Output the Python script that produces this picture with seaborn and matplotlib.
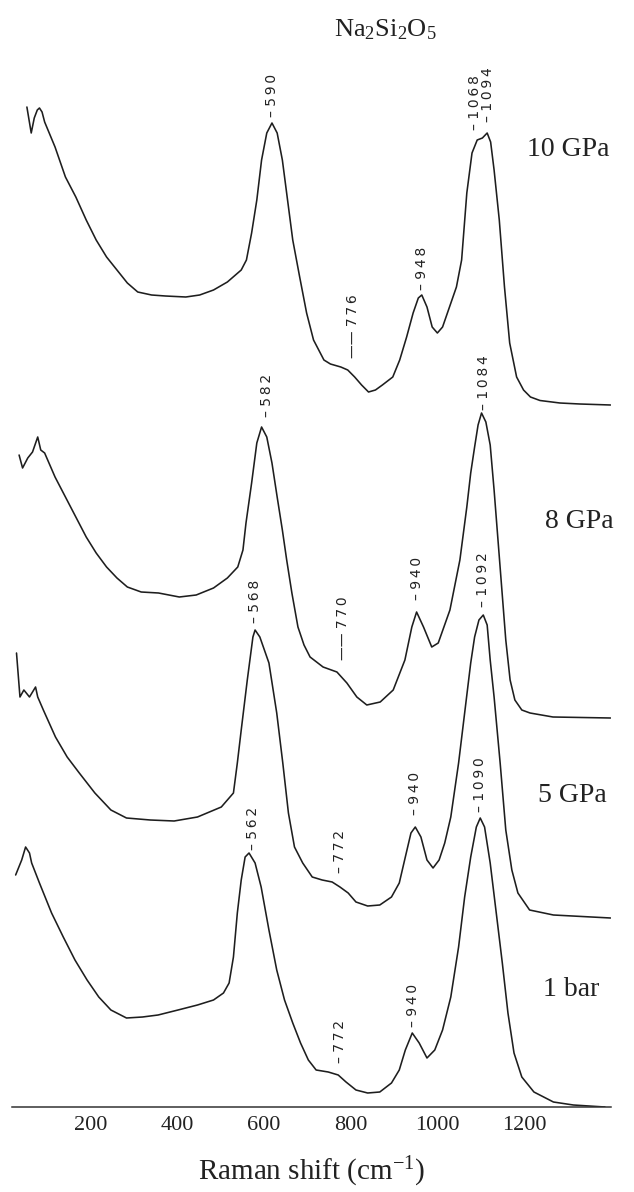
import matplotlib
matplotlib.use("Agg")
import matplotlib.pyplot as plt
import seaborn as sns
import pandas as pd

# ---------------- data ----------------
shift_10gpa = [52, 62, 69, 76, 81, 87, 93, 117, 141, 165, 189, 212, 236, 260, 284, 308, 340, 372, 419, 451,
               483, 515, 547, 559, 571, 583, 594, 606, 618, 630, 642, 654, 666, 682, 698, 714, 738, 753, 777, 793,
               809, 825, 841, 857, 873, 897, 913, 929, 944, 956, 964, 976, 988, 1000, 1012, 1028, 1044, 1056, 1068, 1080,
               1092, 1104, 1115, 1123, 1131, 1143, 1155, 1167, 1183, 1199, 1215, 1237, 1283, 1329, 1400]
int_10gpa = [298, 272, 287, 295, 297, 293, 283, 258, 228, 208, 185, 165, 148, 135, 122, 113, 110, 109, 108, 110,
             115, 123, 135, 145, 172, 205, 245, 272, 282, 272, 245, 205, 165, 128, 92, 65, 45, 41, 38, 35,
             28, 20, 13, 15, 20, 28, 45, 68, 92, 107, 110, 98, 78, 72, 78, 98, 118, 145, 212, 252,
             265, 267, 272, 263, 235, 185, 118, 62, 28, 15, 8, 4.5, 2, 1, 0]

shift_8gpa = [34, 42, 54, 65, 77, 84, 93, 117, 141, 165, 189, 212, 236, 260, 284, 316, 356, 404, 443, 483,
              515, 539, 551, 558, 571, 583, 594, 606, 618, 630, 642, 652, 664, 678, 692, 706, 736, 768, 791, 814,
              837, 868, 898, 925, 941, 952, 968, 987, 1002, 1029, 1052, 1068, 1077, 1086, 1094, 1102, 1112, 1122, 1131, 1140,
              1149, 1158, 1168, 1179, 1195, 1214, 1267, 1400]
int_8gpa = [263, 250, 260, 266, 281, 268, 265, 241, 221, 201, 181, 165, 151, 140, 131, 126, 125, 121, 123, 130,
            140, 151, 168, 195, 235, 275, 291, 281, 255, 221, 188, 158, 125, 91, 73, 61, 51, 46, 35, 21,
            13, 16, 28, 58, 91, 106, 91, 71, 75, 108, 158, 211, 245, 271, 293, 305, 296, 273, 228, 178,
            128, 78, 38, 18, 8, 5, 1, 0]

shift_5gpa = [28, 36, 45, 58, 72, 77, 90, 118, 145, 173, 209, 246, 282, 337, 392, 446, 501, 529, 538, 547,
              561, 574, 579, 590, 611, 629, 643, 656, 670, 689, 711, 734, 757, 775, 794, 812, 839, 867, 894, 912,
              926, 939, 949, 962, 976, 990, 1004, 1017, 1031, 1049, 1063, 1077, 1086, 1096, 1106, 1115, 1122, 1131, 1145, 1158,
              1172, 1186, 1213, 1268, 1400]
int_5gpa = [265, 221, 228, 221, 231, 221, 208, 181, 161, 145, 125, 108, 100, 98, 97, 101, 111, 125, 155, 188,
            238, 281, 288, 281, 255, 205, 155, 105, 71, 55, 41, 38, 36, 31, 25, 16, 12, 13, 21, 35,
            61, 85, 91, 81, 58, 50, 58, 75, 101, 155, 205, 255, 281, 298, 303, 293, 258, 221, 155, 88,
            48, 25, 8, 3, 0]

shift_1bar = [26, 40, 49, 58, 63, 81, 109, 136, 163, 191, 218, 246, 282, 319, 355, 401, 446, 483, 506, 519,
              529, 538, 547, 556, 565, 579, 593, 611, 629, 647, 666, 684, 702, 720, 748, 771, 789, 812, 839, 867,
              894, 912, 926, 942, 958, 976, 994, 1012, 1031, 1049, 1063, 1077, 1090, 1099, 1109, 1122, 1136, 1150, 1163, 1177,
              1195, 1223, 1268, 1314, 1387]
int_1bar = [232, 247, 260, 254, 244, 224, 194, 170, 147, 127, 110, 97, 89, 90, 92, 97, 102, 107, 114, 124,
            150, 194, 227, 250, 254, 244, 220, 177, 137, 107, 84, 64, 47, 37, 35, 32, 25, 17, 14, 15,
            24, 37, 57, 74, 64, 49, 57, 77, 110, 160, 210, 250, 280, 289, 280, 244, 194, 144, 94, 54,
            30, 15, 5, 2, 0]

pressures = ["10 GPa", "8 GPa", "5 GPa", "1 bar"]
offsets = [702, 389, 189, 0]
label_pos_x = [1302, 1327, 1312, 1309]
label_pos_y = [957, 586, 311, 117]

# peak annotations
peak_text = ["590", "1068", "1094", "948", "776",
             "582", "1084", "770", "940",
             "568", "1092", "772", "940",
             "562", "1090", "772", "940"]
peak_x = [617, 1087, 1118, 964, 805,
          606, 1107, 783, 953,
          579, 1106, 775, 948,
          574, 1098, 775, 944]
peak_y = [990, 977, 985, 817, 749,
          690, 697, 447, 507,
          484, 500, 234, 292,
          257, 295, 44, 80]
peak_long = [False, False, False, False, True,
             False, False, True, False,
             False, False, False, False,
             False, False, False, False]

xticks = [200, 400, 600, 800, 1000, 1200]

# ---------------- figure ----------------
sns.set_theme(style="white")
plt.rcParams["font.family"] = ["Liberation Serif", "DejaVu Serif"]
plt.rcParams["mathtext.fontset"] = "custom"
plt.rcParams["mathtext.rm"] = "Liberation Serif"
plt.rcParams["mathtext.it"] = "Liberation Serif:italic"

W, H = 634, 1192
fig = plt.figure(figsize=(W / 100, H / 100), dpi=100)
fig.patch.set_facecolor("white")
ax = fig.add_axes([12 / W, 1 - 1107 / H, (611 - 12) / W, (1107 - 40) / H])
ax.set_facecolor("white")

spectra = {
    "10 GPa": (shift_10gpa, int_10gpa),
    "8 GPa": (shift_8gpa, int_8gpa),
    "5 GPa": (shift_5gpa, int_5gpa),
    "1 bar": (shift_1bar, int_1bar),
}
rows = []
for p, off in zip(pressures, offsets):
    xs, ys = spectra[p]
    for xv, yv in zip(xs, ys):
        rows.append({"shift": xv, "signal": yv + off, "pressure": p})
df = pd.DataFrame(rows)

line_color = "#1e1e1e"
for p in pressures:
    sub = df[df["pressure"] == p]
    sns.lineplot(data=sub, x="shift", y="signal", ax=ax, color=line_color,
                 linewidth=1.15, estimator=None, sort=False, legend=False)

ax.set_xlim(17.6, 1401)
ax.set_ylim(0, 1067)

# peak labels (rotated, plotter-like sans font with open spacing)
TS = "\u2009"
for t, xv, yv, lg in zip(peak_text, peak_x, peak_y, peak_long):
    digits = TS.join(list(t))
    s = ("\u2014\u2014 " + digits) if lg else ("\u2013 " + digits)
    ax.text(xv, yv, s, rotation=90, ha="center", va="bottom",
            fontsize=10, family=["DejaVu Sans"], color="#222222")

# pressure labels on the right
for p, lx, ly in zip(pressures, label_pos_x, label_pos_y):
    ax.text(lx, ly, p, ha="center", va="center", fontsize=20, color="#222222", clip_on=False)

# axes styling
for side in ["left", "right", "top"]:
    ax.spines[side].set_visible(False)
ax.spines["bottom"].set_color("#333333")
ax.spines["bottom"].set_linewidth(1.1)
ax.set_yticks([])
ax.set_xticks(xticks)
ax.set_xticklabels([str(v) for v in xticks], fontsize=16, color="#222222")
ax.tick_params(axis="x", direction="inout", length=5, width=1.0, color="#333333", pad=4)
ax.set_xlabel("Raman shift (cm$^{-1}$)", fontsize=21, color="#222222", labelpad=14)
ax.set_ylabel("")

fig.text(385 / W, 1 - 30 / H, "Na$_2$Si$_2$O$_5$", ha="center", va="center", fontsize=19, color="#222222")

fig.savefig("out.png", dpi=100, facecolor="white")
